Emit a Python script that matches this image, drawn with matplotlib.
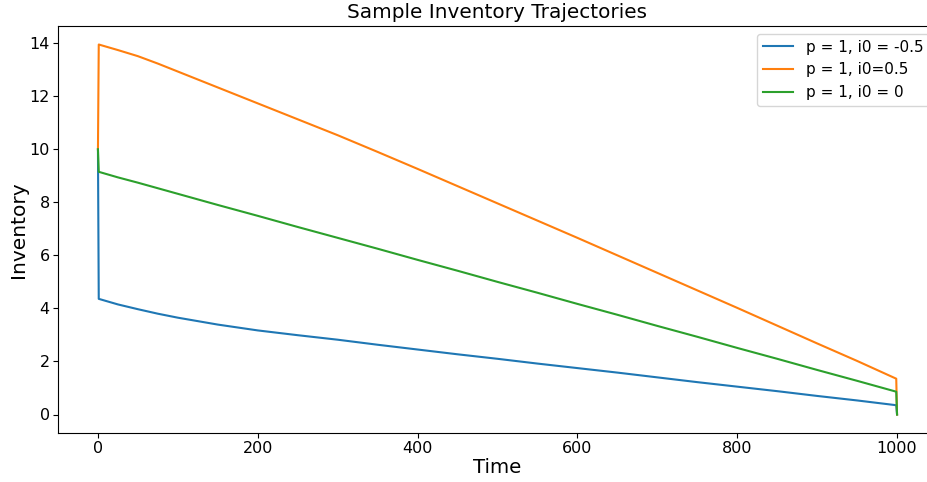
import matplotlib
matplotlib.use("Agg")
import matplotlib.pyplot as plt

time = [0, 1, 25, 50, 75, 100, 150, 200, 250, 300, 350, 400, 450, 500, 550,
        600, 650, 700, 750, 800, 850, 900, 950, 999, 1000]
inv_neg = [10, 4.36, 4.15, 3.97, 3.8, 3.65, 3.39, 3.17, 2.99, 2.82, 2.63,
           2.45, 2.27, 2.1, 1.92, 1.75, 1.58, 1.4, 1.22, 1.05, 0.88, 0.7,
           0.53, 0.35, 0]
inv_pos = [10, 13.95, 13.74, 13.51, 13.23, 12.93, 12.33, 11.73, 11.13, 10.53,
           9.9, 9.26, 8.61, 7.96, 7.31, 6.66, 6.0, 5.34, 4.68, 4.02, 3.35,
           2.68, 2.02, 1.35, 0]
inv_zero = [10, 9.15, 8.94, 8.74, 8.53, 8.32, 7.9, 7.49, 7.07, 6.66, 6.25,
            5.83, 5.42, 5.0, 4.59, 4.17, 3.76, 3.34, 2.93, 2.51, 2.1, 1.68,
            1.27, 0.86, 0]
labels = ["p = 1, i0 = -0.5", "p = 1, i0=0.5", "p = 1, i0 = 0"]

fig = plt.figure(figsize=(9.28, 4.82), dpi=100)
ax = fig.add_axes([58 / 928, 1 - 433 / 482, (937 - 58) / 928, (433 - 26) / 482])
ax.plot(time, inv_neg, color="#1f77b4", lw=1.5, label=labels[0])
ax.plot(time, inv_pos, color="#ff7f0e", lw=1.5, label=labels[1])
ax.plot(time, inv_zero, color="#2ca02c", lw=1.5, label=labels[2])

ax.set_title("Sample Inventory Trajectories", fontsize=14.4)
ax.set_xlabel("Time", fontsize=14.2, labelpad=1.5)
ax.set_ylabel("Inventory", fontsize=14.5, labelpad=1)
ax.tick_params(labelsize=11.5, pad=2.5)
ax.spines["right"].set_visible(False)
ax.legend(loc="upper right", fontsize=11)

fig.savefig("out.png", dpi=100)
